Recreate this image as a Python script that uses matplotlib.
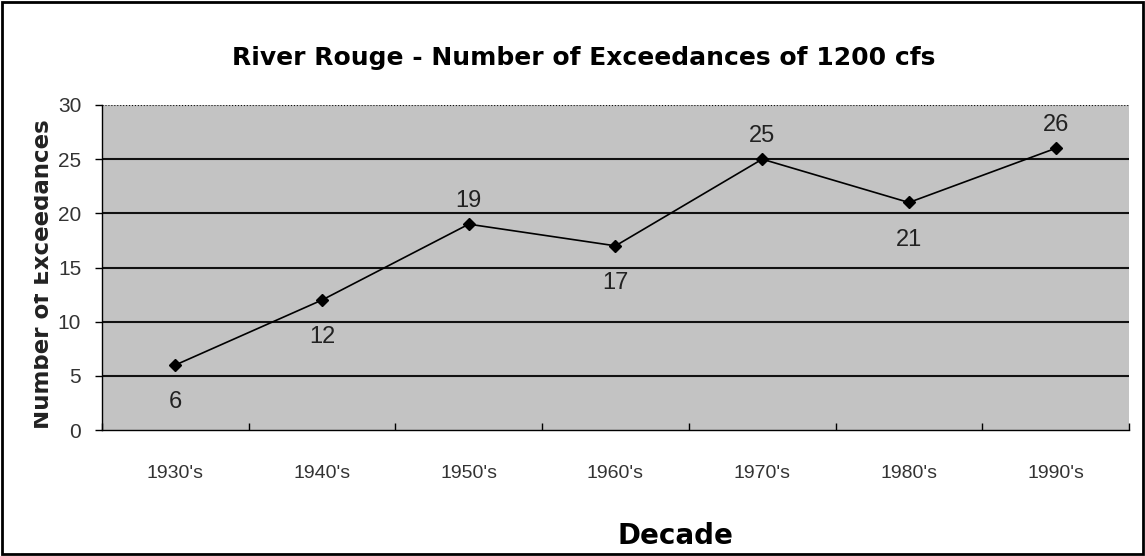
import matplotlib.pyplot as plt
import matplotlib.transforms as mtransforms
import numpy as np

decades = ["1930's", "1940's", "1950's", "1960's", "1970's", "1980's", "1990's"]
counts = [6, 12, 19, 17, 25, 21, 26]
label_above = [False, False, True, False, True, False, True]

W, H = 1145, 556
fig = plt.figure(figsize=(W / 100, H / 100), dpi=100)
fig.patch.set_facecolor('white')
# figure border
fig.patches.append(plt.Rectangle((0.002, 0.003), 0.996, 0.994, transform=fig.transFigure,
                                 fill=False, edgecolor='black', linewidth=2))

ax = fig.add_axes([102/W, 1 - 430/H, (1129-102)/W, (430-105)/H])
ax.set_facecolor('#c3c3c3')

x = np.arange(len(decades)) + 0.5
ax.plot(x, counts, color='black', linewidth=1.2, marker='D', markersize=6, zorder=3)

for xi, c, up in zip(x, counts, label_above):
    off = 17 if up else -27
    ax.annotate(str(c), (xi, c), xytext=(0, off), textcoords='offset points',
                ha='center', va='center', fontsize=17, color='#222222',
                family='Liberation Sans')

ax.set_xlim(0, len(decades))
ax.set_ylim(0, 30)
ax.set_yticks(range(0, 31, 5))
ax.set_yticklabels([str(v) for v in range(0, 31, 5)], fontsize=15, color='#333333',
                   family='Liberation Sans')
ax.set_xticks(np.arange(len(decades) + 1))
ax.set_xticklabels([])
ax.set_xticks(x, minor=True)
ax.set_xticklabels(decades, minor=True, fontsize=14, color='#333333',
                   family='Liberation Sans')
ax.tick_params(axis='x', which='minor', length=0, pad=25)
ax.tick_params(axis='x', which='major', length=5, direction='in', width=1)
ax.tick_params(axis='y', length=5, direction='out', width=1, pad=10)

for v in range(5, 31, 5):
    ax.axhline(v, color='#111111', linewidth=1.5 if v < 30 else 0.8,
               linestyle='-' if v < 30 else ':', zorder=1)

ax.spines['top'].set_visible(False)
ax.spines['right'].set_visible(False)
ax.spines['left'].set_linewidth(1)
ax.spines['bottom'].set_linewidth(1)

fig.text(584/W, 1 - 58/H, 'River Rouge - Number of Exceedances of 1200 cfs',
         ha='center', va='center', fontsize=18, fontweight='bold')
fig.text(675/W, 1 - 536/H, 'Decade', ha='center', va='center',
         fontsize=20, fontweight='bold')
ylab = fig.text(43/W, 1 - 274/H, 'Number of Exceedances', ha='center', va='center',
                rotation=90, fontsize=16.5, fontweight='bold', color='#222222')
# the label's left edge is cut off in the original
ylab.set_clip_box(mtransforms.Bbox.from_extents(34, 0, 80, H))
ylab.set_clip_on(True)

fig.savefig('out.png', dpi=100)
